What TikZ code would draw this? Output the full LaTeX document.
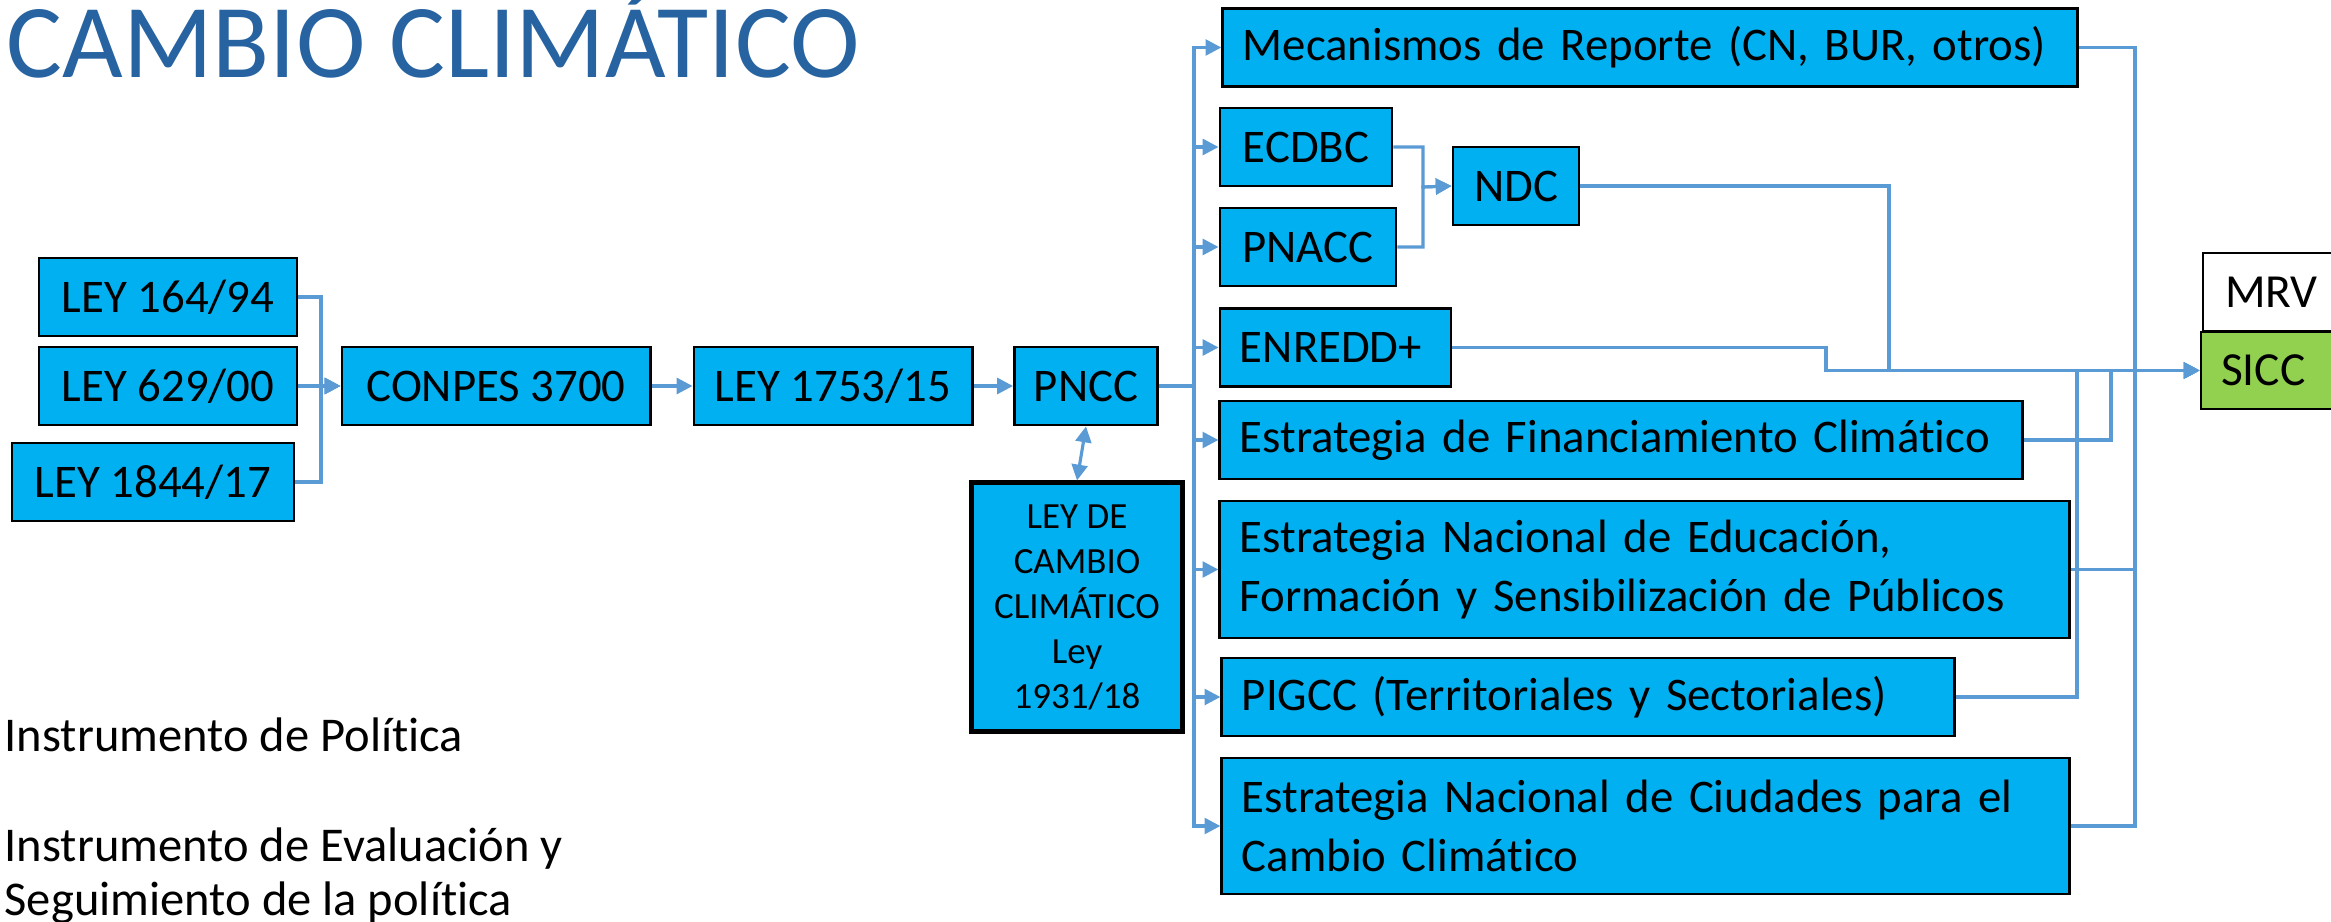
\documentclass[tikz,border=0pt]{standalone}
\usepackage{fontspec}
\setmainfont{Carlito}[Ligatures=NoCommon]
\usetikzlibrary{arrows.meta}
\definecolor{cajaazul}{HTML}{00B0F0}
\definecolor{cajaverde}{HTML}{92D050}
\definecolor{lineaazul}{HTML}{5B9BD5}
\definecolor{tituloazul}{HTML}{2763A1}
\begin{document}
\begin{tikzpicture}[x=0.01cm,y=-0.01cm,
		caja/.style={draw,line width=0.8pt,fill=cajaazul,minimum height=0.78cm,inner sep=0pt,font=\fontsize{13.3}{17}\selectfont},
		cajaizq/.style={caja,inner xsep=0.2cm,align=left},
		texto/.style={inner sep=0pt,anchor=base west,align=left,font=\fontsize{13.8}{15.2}\selectfont},
		linea/.style={draw=lineaazul,line width=0.9pt},
		flecha/.style={linea,-{Triangle[length=4.5pt,width=4.5pt]}},
		flechados/.style={linea,{Triangle[length=4.5pt,width=4.5pt]}-{Triangle[length=4.5pt,width=4.5pt]}}
		]
		\useasboundingbox (0,0) rectangle (2331,922);
		
		\node[anchor=base west,inner sep=0pt,text=tituloazul,font=\fontsize{29.8}{35}\selectfont](titulo) at (6,78){CAMBIO CLIMÁTICO};
		
		% leyes y politica
		\node[caja, minimum width=2.58cm](l164) at (168,297){LEY 164/94};
		\node[caja, minimum width=2.58cm](l629) at (168,386){LEY 629/00};
		\node[caja, minimum width=2.82cm](l1844) at (153,482){LEY 1844/17};
		\node[caja, minimum width=3.08cm](conpes) at (496,386){CONPES 3700};
		\node[caja, minimum width=2.78cm](l1753) at (833,386){LEY 1753/15};
		\node[caja, minimum width=1.43cm](pncc) at (1086,386){PNCC};
		\node[caja, minimum width=2.10cm, minimum height=2.48cm, line width=1.4pt, align=center,
		font=\fontsize{10.5}{12.8}\selectfont](leycc) at (1077,607){LEY DE\\CAMBIO\\CLIMÁTICO\\Ley\\1931/18};
		
		% instrumentos
		\node[cajaizq, text width=8.14cm](mec) at (1650,47.5){Mecanismos de Reporte (CN, BUR, otros)};
		\node[caja, minimum width=1.72cm](ecdbc) at (1306,147){ECDBC};
		\node[caja, minimum width=1.76cm](pnacc) at (1308,247){PNACC};
		\node[caja, minimum width=1.26cm](ndc) at (1516,186){NDC};
		\node[cajaizq, text width=1.91cm](enredd) at (1335.5,347.5){ENREDD+};
		\node[cajaizq, text width=7.62cm](finan) at (1621,440){Estrategia de Financiamiento Climático};
		\node[cajaizq, text width=8.09cm, minimum height=1.37cm](educ) at (1644.5,569.5){Estrategia Nacional de Educación,\\Formación y Sensibilización de Públicos};
		\node[cajaizq, text width=6.92cm](pigcc) at (1588,697){PIGCC (Territoriales y Sectoriales)};
		\node[cajaizq, text width=8.07cm, minimum height=1.36cm](ciud) at (1645.5,826){Estrategia Nacional de Ciudades para el\\Cambio Climático};
		
		\node[cajaizq, fill=white, inner xsep=0.22cm, text width=0.98cm, font=\fontsize{13.5}{16}\selectfont](mrv) at (2274,292){MRV};
		\node[cajaizq, fill=cajaverde, inner xsep=0.2cm, text width=1.04cm, minimum height=0.77cm, font=\fontsize{13.5}{16}\selectfont](sicc) at (2273,370.5){SICC};
		
		\node[texto](ipol) at (4,751){Instrumento de Política};
		\node[texto](ieval) at (4,915){Instrumento de Evaluación y\\Seguimiento de la política};
		
		% conectores
		\coordinate (bizq) at (321,386);
		\coordinate (bcentro) at (1194,386);
		\coordinate (bndc) at (1423,187);
		\coordinate (s1) at (1826,370.5);
		\coordinate (s2) at (1889,370.5);
		\coordinate (s3) at (2077,370.5);
		\coordinate (s4) at (2111,370.5);
		\coordinate (s5) at (2135,370.5);
		
		\foreach \n in {l164,l629,l1844}
		\draw[flecha] (\n.east) -| (bizq) -- (conpes.west);
		\draw[flecha] (conpes.east) -- (l1753.west);
		\draw[flecha] (l1753.east) -- (pncc.west);
		\draw[flechados] (pncc.south) -- (leycc.north);
		\draw[linea] (pncc.east) -- (bcentro);
		\foreach \n in {mec,ecdbc,pnacc,enredd,finan,educ,pigcc,ciud}
		\draw[flecha] (bcentro) |- (\n.west);
		\foreach \n in {ecdbc,pnacc}
		\draw[flecha] (\n.east) -| (bndc) -- (ndc.west);
		\foreach \n/\s in {enredd/s1,ndc/s2,pigcc/s3,finan/s4,mec/s5,educ/s5,ciud/s5}
		\draw[flecha] (\n.east) -| (\s) -- (sicc.west);
	\end{tikzpicture}
\end{document}
